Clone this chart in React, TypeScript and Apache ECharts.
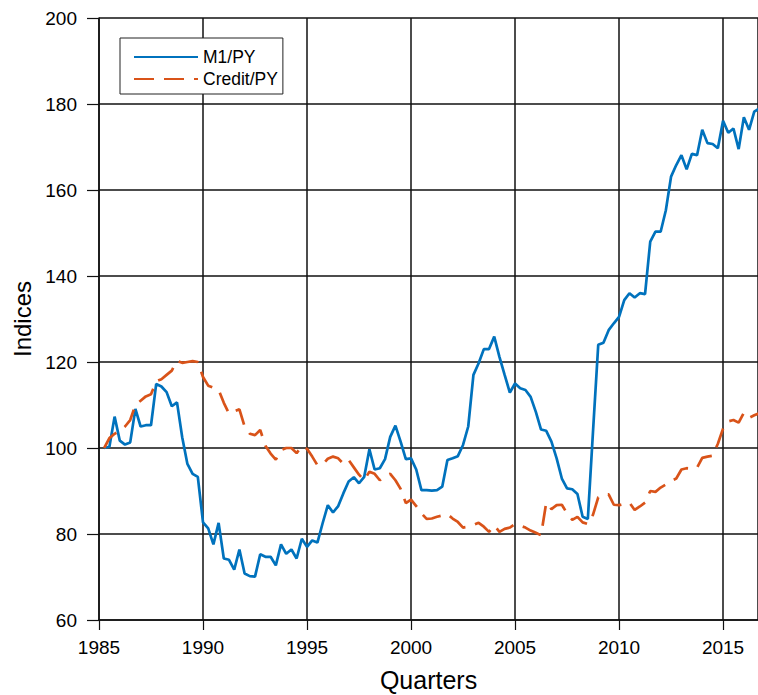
import React, { useEffect, useRef } from "react";
import * as echarts from "echarts";

// Quarterly observations, first quarter plotted at 1985.25
const firstQuarter = 1985.25;
const quarterStep = 0.25;

const m1PY: number[] = [
  100.0, 100.3, 107.3,
  101.7, 100.8, 101.3, 109.1,
  105.0, 105.3, 105.3, 114.9,
  114.3, 113.0, 109.7, 110.6,
  102.5, 96.3, 94.0, 93.3,
  82.7, 81.3, 77.6, 82.6,
  74.3, 74.0, 71.7, 76.4,
  70.8, 70.2, 70.1, 75.3,
  74.7, 74.7, 72.7, 77.6,
  75.4, 76.4, 74.3, 78.9,
  77.0, 78.5, 78.0, 82.5,
  86.7, 85.0, 86.5, 89.5,
  92.2, 93.2, 91.8, 93.3,
  99.7, 95.0, 95.3, 97.4,
  102.6, 105.2, 101.5, 97.4,
  97.6, 95.0, 90.2, 90.2,
  90.1, 90.2, 91.0, 97.2,
  97.6, 98.1, 100.7, 105.0,
  117.0, 119.7, 123.0, 123.0,
  125.9, 121.2, 117.0, 112.9,
  115.0, 113.9, 113.5, 111.9,
  108.4, 104.3, 104.0, 101.5,
  97.6, 92.9, 90.6, 90.4,
  89.3, 84.0, 83.5, 104.0,
  124.0, 124.5, 127.4, 129.0,
  130.5, 134.4, 136.0, 135.0,
  136.0, 135.8, 148.0, 150.3,
  150.3, 155.3, 163.1, 165.8,
  168.1, 164.8, 168.4, 168.1,
  174.0, 170.9, 170.7, 169.7,
  176.1, 173.3, 174.3, 169.5,
  176.9, 174.0, 178.2, 179.0,
];

const creditPY: number[] = [
  100.0, 102.3, 103.3,
  104.0, 105.0, 106.5, 110.0,
  111.0, 112.0, 112.5, 115.5,
  116.0, 117.0, 118.0, 120.3,
  119.8, 120.0, 120.2, 120.0,
  116.5, 114.5, 114.0, 113.5,
  110.5, 108.0, 108.5, 109.0,
  105.0, 103.3, 103.0, 104.2,
  100.5, 98.7, 97.3, 99.5,
  100.0, 100.0, 98.8, 100.5,
  99.8, 98.0, 96.0, 96.2,
  97.5, 98.0, 97.6, 96.3,
  97.2, 95.5, 93.8, 92.5,
  94.5, 94.0, 92.5, 93.5,
  94.0, 92.5, 90.5, 87.2,
  88.0, 86.5, 84.8, 83.5,
  83.6, 84.0, 84.3, 84.6,
  83.6, 82.8, 81.5, 81.7,
  82.1, 82.6, 81.7, 80.5,
  82.0, 80.5, 81.2, 81.5,
  82.3, 81.9, 81.5, 80.8,
  80.3, 79.7, 87.3, 85.8,
  86.7, 86.8, 84.8, 83.3,
  84.0, 82.7, 82.3, 84.5,
  88.5, 89.2, 89.2, 86.8,
  86.7, 87.0, 87.3, 85.6,
  86.4, 87.3, 90.0, 89.8,
  90.8, 91.5, 92.3, 92.9,
  95.0, 95.3, 95.2, 95.4,
  97.7, 98.0, 98.2, 101.0,
  104.5, 106.2, 106.5, 105.9,
  108.2, 107.0, 107.6, 108.1,
];

const seriesNames = ["M1/PY", "Credit/PY"];
const xTicksYears = [1985, 1990, 1995, 2000, 2005, 2010, 2015];
const yTicks = [60, 80, 100, 120, 140, 160, 180, 200];

const FONT = "'Liberation Sans', Arial, Helvetica, sans-serif";

export default function App() {
  const ref = useRef<HTMLDivElement>(null);
  useEffect(() => {
    if (!ref.current) return;
    const chart = echarts.init(ref.current, undefined, { renderer: "svg" });
    const toPairs = (vals: number[]) =>
      vals.map((v, i) => [firstQuarter + i * quarterStep, v]);
    const gridColor = "#111";
    chart.setOption({
      animation: false,
      backgroundColor: "#fff",
      textStyle: { fontFamily: FONT },
      grid: {
        left: 99,
        right: 0,
        top: 18,
        bottom: 75,
        containLabel: false,
        outerBoundsMode: "none",
      },
      legend: {
        orient: "vertical",
        left: 120,
        top: 38,
        padding: [10, 5, 6, 13],
        itemWidth: 64,
        itemHeight: 14,
        itemGap: 4,
        itemStyle: { opacity: 0 },
        backgroundColor: "#fff",
        borderColor: "#222",
        borderWidth: 1,
        borderRadius: 0,
        textStyle: { fontSize: 17.5, color: "#000", fontFamily: FONT, lineHeight: 18 },
        data: seriesNames,
      },
      xAxis: {
        type: "value",
        min: xTicksYears[0],
        max: 2016.68,
        interval: 5,
        name: "Quarters",
        nameLocation: "middle",
        nameGap: 47,
        nameTextStyle: { fontSize: 25, color: "#000", fontFamily: FONT, lineHeight: 25 },
        axisLine: { show: true, onZero: false, lineStyle: { color: gridColor, width: 1.5 } },
        axisTick: { show: true, inside: false, length: 10, lineStyle: { color: gridColor, width: 1.2 } },
        axisLabel: {
          fontSize: 19,
          color: "#000",
          margin: 18,
          fontFamily: FONT,
          showMaxLabel: false,
          formatter: (v: number) => (xTicksYears.includes(v) ? String(v) : ""),
        },
        splitLine: { show: true, lineStyle: { color: gridColor, width: 1.5 } },
      },
      yAxis: {
        type: "value",
        min: yTicks[0],
        max: yTicks[yTicks.length - 1],
        interval: 20,
        name: "Indices",
        nameLocation: "middle",
        nameRotate: 90,
        nameGap: 62,
        nameTextStyle: { fontSize: 24, color: "#000", fontFamily: FONT },
        axisLine: { show: true, onZero: false, lineStyle: { color: gridColor, width: 1.5 } },
        axisTick: { show: true, inside: false, length: 12, lineStyle: { color: gridColor, width: 1.2 } },
        axisLabel: { fontSize: 19, color: "#000", margin: 22, fontFamily: FONT },
        splitLine: { show: true, lineStyle: { color: gridColor, width: 1.5 } },
      },
      series: [
        {
          name: seriesNames[0],
          type: "line",
          data: toPairs(m1PY),
          symbol: "none",
          showSymbol: false,
          color: "#0072BD",
          lineStyle: { color: "#0072BD", width: 2.7 },
          z: 3,
        },
        {
          name: seriesNames[1],
          type: "line",
          data: toPairs(creditPY),
          symbol: "none",
          showSymbol: false,
          color: "#D95319",
          lineStyle: { color: "#D95319", width: 2.7, type: [20, 10] },
          z: 4,
        },
      ],
    });
    return () => chart.dispose();
  }, []);
  return (
    <div
      ref={ref}
      style={{ position: "absolute", left: 0, top: 0, width: 758, height: 695 }}
    />
  );
}
